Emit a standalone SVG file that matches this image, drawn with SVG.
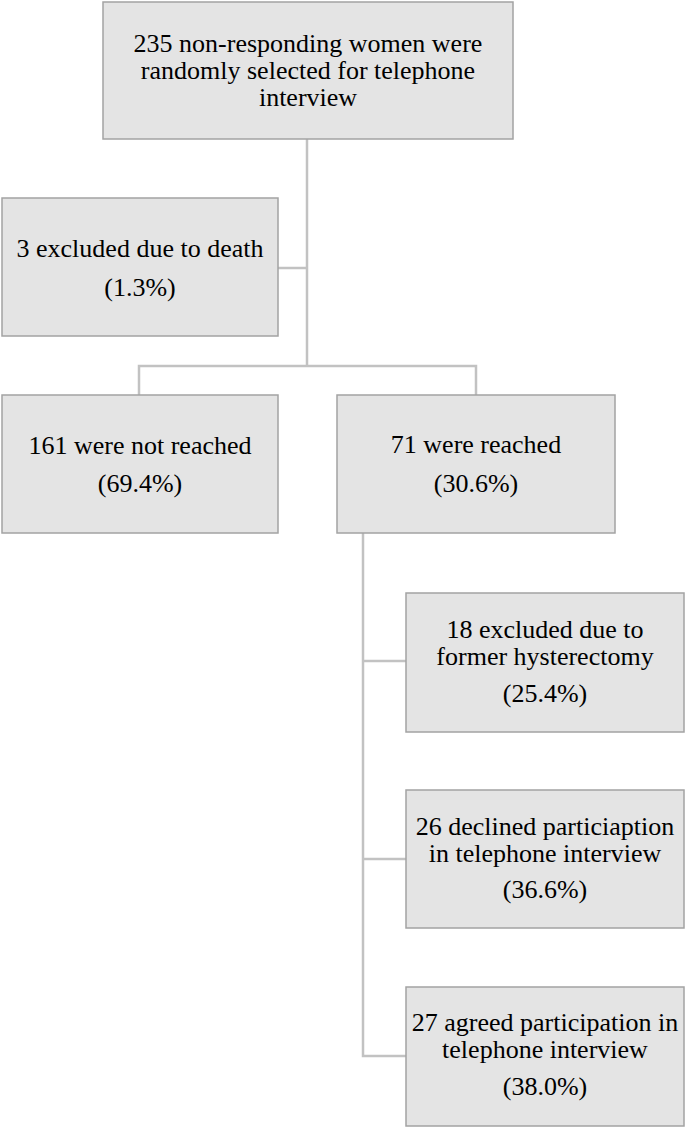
<svg xmlns="http://www.w3.org/2000/svg" width="685" height="1127" viewBox="0 0 685 1127">
<style>
.box{fill:#e4e4e4;stroke:#a3a3a3;stroke-width:1.5}
.t{font-family:'Liberation Serif','Times New Roman',Times,serif;font-size:26px;fill:#000;text-anchor:middle}
.c{fill:none;stroke:#c2c2c2;stroke-width:2.5}
</style>
<rect width="685" height="1127" fill="#fff"/>
<g id="connectors">
<path class="c" d="M307,139 V366"/>
<path class="c" d="M278,268 H307"/>
<path class="c" d="M139,395 V366 H476 V395"/>
<path class="c" d="M363,533 V1056 H406"/>
<path class="c" d="M363,661 H406"/>
<path class="c" d="M363,859 H406"/>
</g>
<g id="n1">
<rect class="box" x="103" y="2" width="410" height="137"/>
<text class="t" font-family="Liberation Serif, serif" x="308" y="52">235 non-responding women were</text>
<text class="t" font-family="Liberation Serif, serif" x="308" y="79">randomly selected for telephone</text>
<text class="t" font-family="Liberation Serif, serif" x="308" y="106">interview</text>
</g>
<g id="n2">
<rect class="box" x="2" y="198" width="276" height="138"/>
<text class="t" x="140" y="257">3 excluded due to death</text>
<text class="t" x="140" y="296">(1.3%)</text>
</g>
<g id="n3">
<rect class="box" x="2" y="395" width="276" height="138"/>
<text class="t" x="140" y="454">161 were not reached</text>
<text class="t" x="140" y="492">(69.4%)</text>
</g>
<g id="n4">
<rect class="box" x="337" y="395" width="278" height="138"/>
<text class="t" x="476" y="453">71 were reached</text>
<text class="t" x="476" y="492">(30.6%)</text>
</g>
<g id="n5">
<rect class="box" x="406" y="593" width="278" height="139"/>
<text class="t" x="545" y="638">18 excluded due to</text>
<text class="t" x="545" y="665">former hysterectomy</text>
<text class="t" x="545" y="702">(25.4%)</text>
</g>
<g id="n6">
<rect class="box" x="406" y="790" width="278" height="138"/>
<text class="t" x="545" y="835">26 declined particiaption</text>
<text class="t" x="545" y="862">in telephone interview</text>
<text class="t" x="545" y="898">(36.6%)</text>
</g>
<g id="n7">
<rect class="box" x="406" y="987" width="278" height="139"/>
<text class="t" x="545" y="1031">27 agreed participation in</text>
<text class="t" x="545" y="1058">telephone interview</text>
<text class="t" x="545" y="1095">(38.0%)</text>
</g>
</svg>
